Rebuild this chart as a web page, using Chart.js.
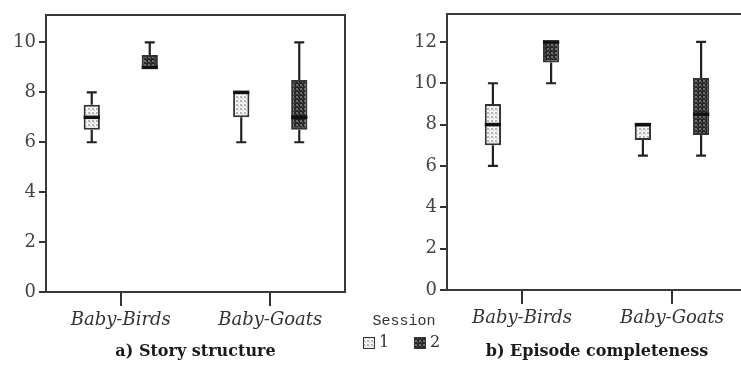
<!DOCTYPE html>
<html>
<head>
<meta charset="utf-8">
<script src="https://cdn.jsdelivr.net/npm/chart.js@4.4.1/dist/chart.umd.min.js"></script>
<style>
  html, body { margin: 0; padding: 0; background: #fff; overflow: hidden; }
  body { width: 741px; height: 366px; position: relative; }
  #boxA { position: absolute; left: 0; top: 0; }
  #boxB { position: absolute; left: 355px; top: 0; }
</style>
</head>
<body>
<canvas id="boxA" width="370" height="366"></canvas>
<canvas id="boxB" width="400" height="366"></canvas>
<script>
// categories and box stats per category: [min, q1, median, q3, max]
var categories = ['Baby-Birds', 'Baby-Goats'];
var sessions = ['1', '2'];
var storyS1 = [[6, 6.5, 7, 7.5, 8], [6, 7, 8, 8, 8]];
var storyS2 = [[9, 9, 9, 9.5, 10], [6, 6.5, 7, 8.5, 10]];
var episodeS1 = [[6, 7, 8, 9, 10], [6.5, 7.25, 8, 8, 8]];
var episodeS2 = [[10, 11, 12, 12, 12], [6.5, 7.5, 8.5, 10.25, 12]];
var storyTicksMax = 11.1;
var episodeTicksMax = 13.35;

function makePattern(bg, dot) {
    var c = document.createElement('canvas');
    c.width = 4; c.height = 4;
    var g = c.getContext('2d');
    g.fillStyle = bg;
    g.fillRect(0, 0, 4, 4);
    g.fillStyle = dot;
    g.fillRect(0, 0, 2, 2);
    g.fillRect(2, 2, 1, 1);
    return document.getElementById('boxA').getContext('2d').createPattern(c, 'repeat');
}
var lightFill = makePattern('#f6f6f6', '#b4b4b4');
var darkFill = makePattern('#262626', '#707070');

// whiskers and medians, placed with the bar elements and y scale
var whiskers = {
    id: 'whiskers',
    afterDatasetsDraw: function(chart) {
        var ctx = chart.ctx, y = chart.scales.y;
        chart.data.datasets.forEach(function(ds, di) {
            chart.getDatasetMeta(di).data.forEach(function(bar, i) {
                var s = ds.stats[i];
                var x = bar.x, cap = 5, hw = bar.width / 2;
                ctx.save();
                ctx.strokeStyle = '#222';
                ctx.lineWidth = 2.2;
                ctx.beginPath();
                if (s[4] > s[3]) {
                    ctx.moveTo(x, y.getPixelForValue(s[3]));
                    ctx.lineTo(x, y.getPixelForValue(s[4]));
                    ctx.moveTo(x - cap, y.getPixelForValue(s[4]));
                    ctx.lineTo(x + cap, y.getPixelForValue(s[4]));
                }
                if (s[0] < s[1]) {
                    ctx.moveTo(x, y.getPixelForValue(s[1]));
                    ctx.lineTo(x, y.getPixelForValue(s[0]));
                    ctx.moveTo(x - cap, y.getPixelForValue(s[0]));
                    ctx.lineTo(x + cap, y.getPixelForValue(s[0]));
                }
                ctx.stroke();
                ctx.lineWidth = 3.5;
                ctx.strokeStyle = '#111';
                ctx.beginPath();
                var ym = y.getPixelForValue(s[2]);
                ctx.moveTo(x - hw, ym);
                ctx.lineTo(x + hw, ym);
                ctx.stroke();
                ctx.restore();
            });
        });
    }
};

var frame = {
    id: 'frame',
    afterDraw: function(chart) {
        var a = chart.chartArea, ctx = chart.ctx;
        ctx.save();
        ctx.strokeStyle = '#3a3a3a';
        ctx.lineWidth = 2;
        ctx.strokeRect(a.left, a.top, a.right - a.left, a.bottom - a.top);
        ctx.restore();
    }
};

var sessionLegend = {
    id: 'sessionLegend',
    afterDraw: function(chart) {
        var ctx = chart.ctx;
        ctx.save();
        ctx.fillStyle = '#333';
        ctx.font = '15px "Liberation Mono"';
        ctx.textAlign = 'center';
        ctx.textBaseline = 'middle';
        ctx.fillText('Session', 49, 321);
        var xs = [8, 59];
        chart.data.datasets.forEach(function(ds, i) {
            ctx.fillStyle = ds.backgroundColor;
            ctx.fillRect(xs[i], 337, 11, 11);
            ctx.strokeStyle = '#333';
            ctx.lineWidth = 1;
            ctx.strokeRect(xs[i] + 0.5, 337.5, 11, 11);
            ctx.fillStyle = '#333';
            ctx.font = '16px "DejaVu Serif"';
            ctx.textAlign = 'left';
            ctx.fillText(ds.label, xs[i] + 16, 343);
        });
        ctx.restore();
    }
};

function boxDataset(label, stats, fill) {
    return {
        label: label,
        stats: stats,
        data: stats.map(function(s) { return [s[1], s[3]]; }),
        backgroundColor: fill,
        borderColor: '#333',
        borderWidth: 2,
        borderSkipped: false,
        categoryPercentage: 0.776,
        barPercentage: 0.28
    };
}

function boxChart(id, s1, s2, yMax, title, pad, xHeight, plugins) {
    return new Chart(document.getElementById(id), {
        type: 'bar',
        data: {
            labels: categories,
            datasets: [boxDataset(sessions[0], s1, lightFill), boxDataset(sessions[1], s2, darkFill)]
        },
        options: {
            responsive: false,
            animation: false,
            layout: { padding: pad },
            plugins: {
                legend: { display: false },
                tooltip: { enabled: false },
                title: {
                    display: true,
                    text: title,
                    position: 'bottom',
                    fullSize: false,
                    color: '#1a1a1a',
                    font: { family: 'DejaVu Serif', size: 16, weight: 'bold', lineHeight: 1.2 },
                    padding: { top: 0, bottom: 0 }
                }
            },
            scales: {
                x: {
                    offset: true,
                    border: { display: false },
                    grid: { offset: false, drawOnChartArea: false, drawTicks: true, tickLength: 14, color: '#333', lineWidth: 2 },
                    ticks: { color: '#333', padding: 4, font: { family: 'DejaVu Serif', size: 18, style: 'italic' } },
                    afterFit: function(s) { s.height = xHeight; }
                },
                y: {
                    min: 0,
                    max: yMax,
                    border: { display: false },
                    grid: { drawOnChartArea: false, drawTicks: true, tickLength: 7, color: '#333', lineWidth: 2 },
                    ticks: { stepSize: 2, includeBounds: false, color: '#444', padding: 3, font: { family: 'DejaVu Serif', size: 18 } },
                    afterFit: function(s) { s.width = 46; }
                }
            }
        },
        plugins: plugins
    });
}

boxChart('boxA', storyS1, storyS2, storyTicksMax, 'a) Story structure',
    { left: 0, right: 25, top: 15, bottom: 5 }, 366 - 5 - 19.2 - 292, [whiskers, frame]);
boxChart('boxB', episodeS1, episodeS2, episodeTicksMax, 'b) Episode completeness',
    { left: 46, right: 8, top: 14, bottom: 5 }, 366 - 5 - 19.2 - 290, [whiskers, frame, sessionLegend]);
</script>
</body>
</html>
